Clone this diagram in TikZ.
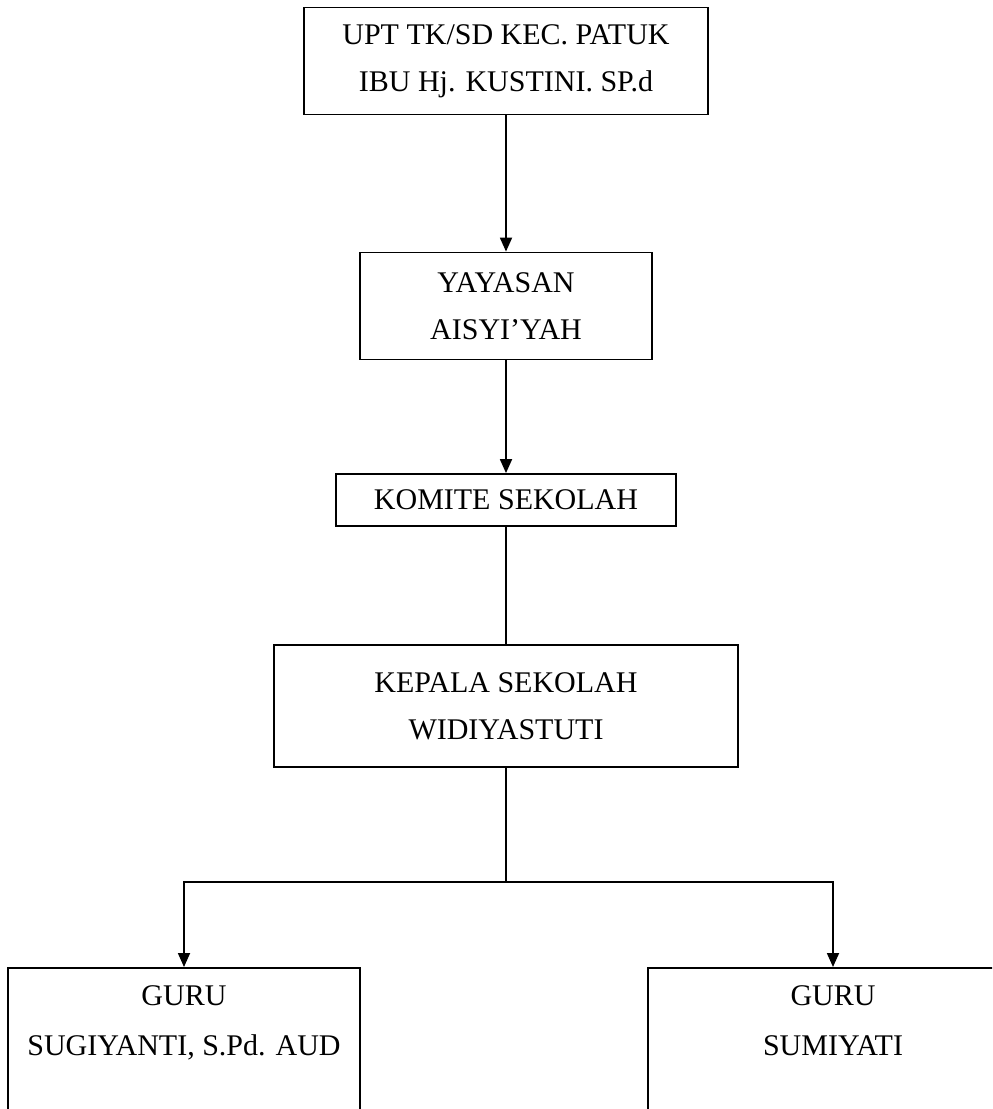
\documentclass[tikz,border=0pt]{standalone}
\usepackage{fontspec}
\setmainfont{Liberation Serif}
\usepackage{tikz}
\usetikzlibrary{arrows.meta}
\tikzset{
  >={Triangle[length=7pt,width=6pt]},
  basic/.style={draw,line width=0.9pt,fill=none,align=center,inner sep=0pt,
                font=\fontsize{15}{23.5}\selectfont},
  unit/.style={basic,minimum width=#1},
  teacher/.style={basic,minimum width=#1,anchor=north,inner ysep=9pt,
                  text depth=60pt,font=\fontsize{15}{25}\selectfont},
  connect/.style={line width=0.9pt}
}
\begin{document}
\begin{tikzpicture}[x=0.5pt,y=-0.5pt]
         \path[use as bounding box,clip] (0,0) rectangle (992,1109);
         % Draw the chain of boxes
         \node[unit=202pt,minimum height=53.5pt] (upt) at (506,61) {UPT TK/SD KEC. PATUK\\IBU Hj. KUSTINI. SP.d};
         \node[unit=146pt,minimum height=53.5pt] (yayasan) at (506,306) {YAYASAN\\AISYI'YAH};
         \node[unit=170pt,minimum height=26pt] (komite) at (506,500) {KOMITE SEKOLAH};
         \node[unit=232pt,minimum height=61pt] (kepala) at (506,706) {KEPALA SEKOLAH\\WIDIYASTUTI};
         % Teachers
         \node[teacher=176pt] (guru1) at (184,967) {GURU\\SUGIYANTI, S.Pd. AUD};
         \node[teacher=185pt] (guru2) at (833,967) {GURU\\SUMIYATI};
         % Connect boxes
         \draw[connect,->] (upt) -- (yayasan);
         \draw[connect,->] (yayasan) -- (komite);
         \draw[connect] (komite) -- (kepala);
         \coordinate (split) at (506,882);
         \draw[connect] (kepala) -- (split);
         \draw[connect,->] (split) -| (guru1);
         \draw[connect,->] (split) -| (guru2);
      \end{tikzpicture}
\end{document}
